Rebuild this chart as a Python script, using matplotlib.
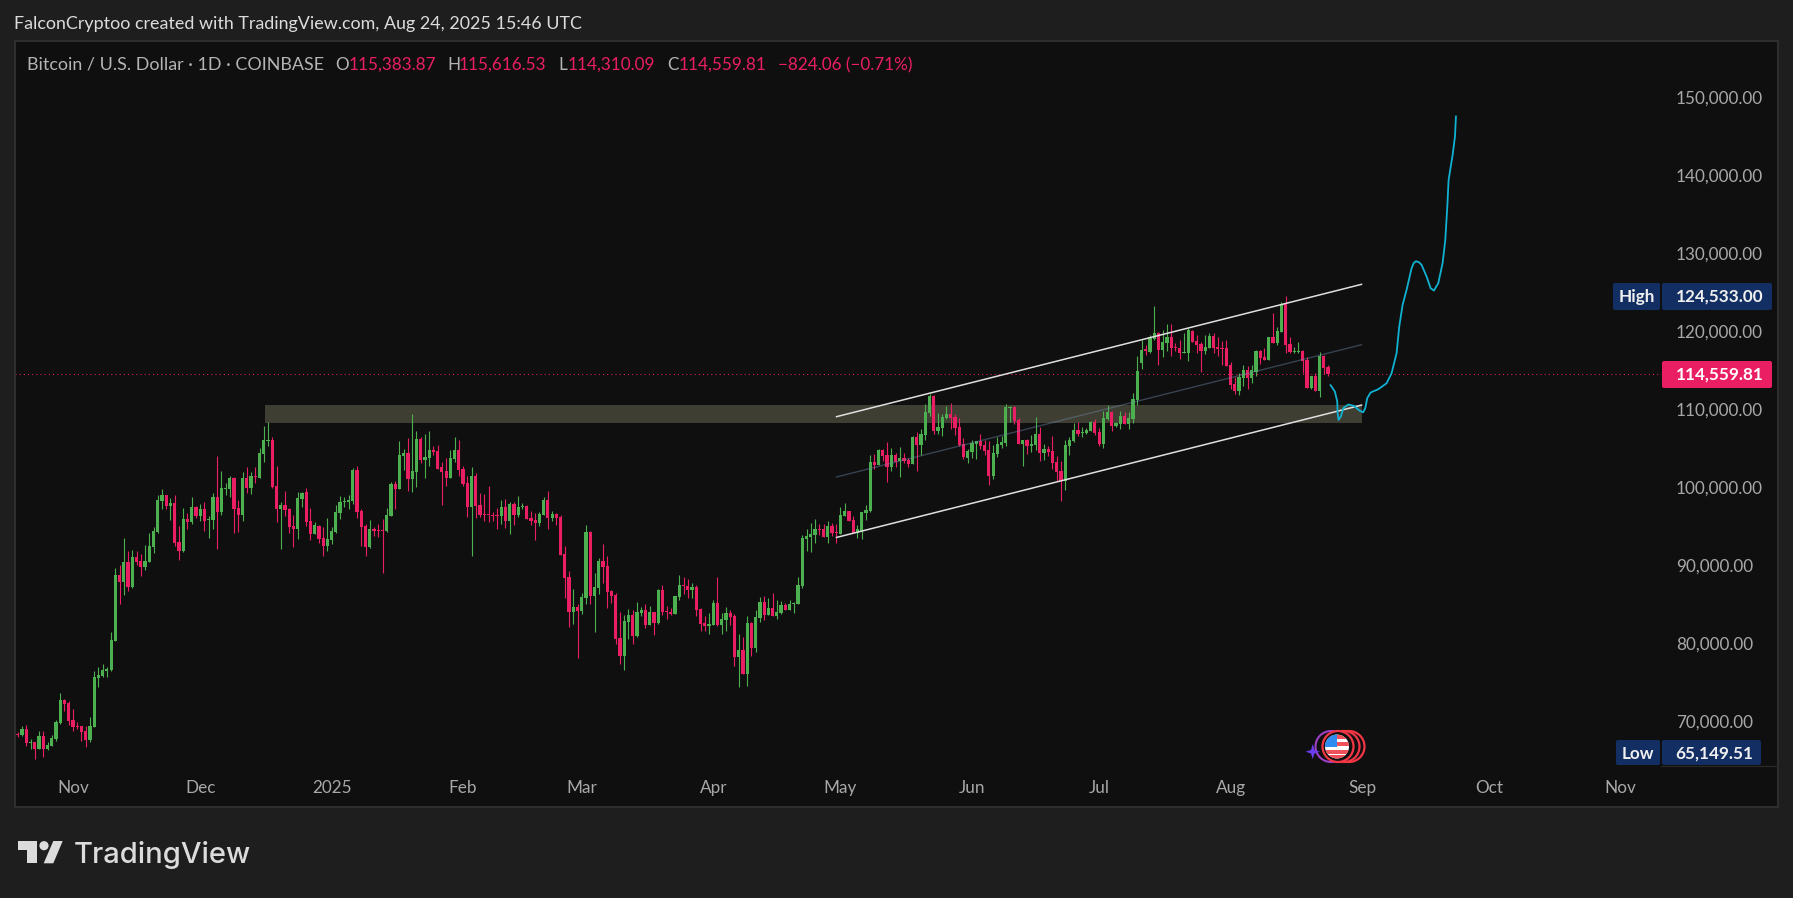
import pandas as pd
import matplotlib
matplotlib.use("Agg")
import matplotlib.pyplot as plt
from matplotlib.patches import Rectangle, Circle, Polygon, FancyBboxPatch

plt.rcParams['font.family'] = ['Lato', 'DejaVu Sans']

# daily BTCUSD candles in thousands of dollars, first bar is 2024-10-19
first_day = "2024-10-19"
opens = [68.41, 68.24, 69.01, 67.22, 67.35, 66.45, 68.11, 66.45, 66.83, 67.73,
         69.78, 72.73, 72.35, 70.17, 69.40, 69.40, 68.76, 67.60, 69.27, 75.55,
         75.81, 76.45, 76.58, 80.29, 88.75, 87.86, 90.42, 87.22, 91.06, 90.55,
         89.78, 90.42, 92.34, 94.27, 98.24, 99.01, 97.60, 97.99, 92.99, 91.83,
         95.93, 95.55, 97.47, 96.32, 97.22, 95.81, 95.81, 98.75, 96.83, 99.78,
         99.78, 101.19, 97.35, 96.45, 101.19, 99.91, 101.45, 101.19, 104.27, 105.93,
         106.06, 100.17, 97.22, 97.73, 97.22, 95.04, 94.65, 98.50, 99.40, 95.68,
         94.01, 95.04, 93.50, 92.47, 93.24, 94.27, 96.70, 98.11, 98.11, 98.24,
         102.22, 96.96, 95.04, 92.34, 94.65, 94.52, 94.52, 94.40, 96.32, 100.42,
         99.78, 104.01, 104.40, 101.06, 101.96, 106.19, 103.50, 103.75, 104.78, 104.65,
         102.60, 102.09, 101.19, 103.63, 104.78, 102.34, 100.55, 97.47, 101.45, 97.73,
         96.58, 96.58, 96.45, 96.45, 96.32, 97.47, 95.68, 97.86, 96.45, 97.47,
         97.60, 96.06, 95.81, 95.42, 96.45, 98.37, 96.06, 96.58, 96.19, 91.45,
         88.50, 84.01, 84.65, 84.14, 85.81, 94.27, 86.06, 87.09, 90.55, 89.91,
         86.70, 86.19, 80.68, 78.37, 82.73, 83.63, 80.93, 83.88, 84.27, 82.34,
         84.01, 82.60, 86.83, 84.14, 84.01, 83.76, 85.93, 87.47, 87.35, 86.83,
         87.22, 84.40, 82.60, 82.22, 82.34, 85.17, 82.34, 82.99, 83.88, 83.50,
         78.24, 79.14, 76.06, 82.60, 79.40, 83.24, 85.29, 83.63, 84.52, 83.50,
         83.88, 84.91, 84.27, 85.04, 85.04, 87.35, 93.37, 93.63, 93.88, 94.65,
         94.65, 93.63, 95.04, 94.27, 94.01, 96.32, 96.96, 95.81, 94.14, 94.40,
         96.70, 96.96, 103.24, 102.86, 104.78, 104.14, 102.60, 104.14, 103.37, 103.75,
         103.50, 102.99, 106.45, 105.42, 106.70, 109.52, 111.70, 107.22, 107.60, 108.88,
         109.40, 109.01, 107.73, 105.55, 103.75, 104.52, 105.55, 105.93, 105.42, 104.78,
         101.45, 104.27, 105.42, 105.68, 110.16, 110.29, 108.63, 105.55, 106.06, 105.29,
         105.42, 106.83, 104.40, 104.91, 104.65, 103.24, 102.09, 100.81, 105.29, 105.93,
         107.34, 106.96, 106.96, 107.22, 108.37, 107.09, 105.55, 108.75, 109.65, 107.86,
         108.11, 109.14, 108.11, 108.75, 111.19, 115.93, 117.73, 117.34, 119.01, 119.78,
         117.60, 118.50, 119.27, 117.99, 117.86, 117.22, 117.22, 120.04, 118.75, 118.37,
         117.47, 117.86, 119.40, 117.99, 117.86, 117.86, 115.68, 113.24, 112.34, 114.01,
         115.04, 114.01, 114.78, 117.47, 116.70, 116.32, 119.27, 118.50, 119.91, 123.50,
         118.37, 117.34, 117.34, 117.47, 116.32, 112.73, 114.27, 112.34, 116.83, 115.38]
closes = [68.20, 69.01, 67.22, 67.35, 66.45, 68.11, 66.45, 66.96, 67.86, 69.91,
          72.73, 72.22, 70.04, 69.27, 69.27, 68.63, 67.60, 69.40, 75.68, 75.94,
          76.58, 76.70, 80.42, 88.75, 87.86, 90.42, 87.22, 91.06, 90.42, 89.78,
          90.55, 92.47, 94.40, 98.37, 99.01, 97.60, 97.99, 92.86, 91.83, 95.93,
          95.55, 97.47, 96.32, 97.22, 95.68, 95.93, 98.75, 96.83, 99.91, 99.91,
          101.19, 97.22, 96.45, 101.19, 99.91, 101.45, 101.32, 104.40, 106.06, 106.06,
          100.04, 97.22, 97.73, 97.09, 94.91, 94.65, 98.63, 99.27, 95.55, 94.01,
          95.16, 93.37, 92.47, 93.37, 94.40, 96.83, 98.11, 98.24, 98.37, 102.22,
          96.83, 94.91, 92.34, 94.65, 94.40, 94.40, 94.40, 96.45, 100.42, 99.78,
          104.14, 104.40, 101.06, 102.09, 106.19, 103.50, 103.88, 104.78, 104.52, 102.38,
          101.96, 101.19, 103.75, 104.78, 102.22, 100.42, 97.47, 101.45, 97.60, 96.45,
          96.45, 96.45, 96.32, 96.32, 97.47, 95.68, 97.86, 96.45, 97.47, 97.60,
          95.93, 95.68, 95.42, 96.58, 98.37, 96.06, 96.58, 96.06, 91.32, 88.37,
          84.01, 84.65, 84.14, 85.93, 94.27, 86.06, 87.22, 90.55, 89.78, 86.58,
          86.06, 80.55, 78.37, 82.86, 83.63, 80.93, 84.01, 84.27, 82.34, 84.01,
          82.60, 86.83, 84.01, 84.01, 83.76, 86.06, 87.47, 87.35, 86.83, 87.22,
          84.27, 82.47, 82.22, 82.47, 85.17, 82.34, 83.11, 83.88, 83.37, 78.24,
          79.14, 76.06, 82.60, 79.40, 83.37, 85.29, 83.63, 84.52, 83.50, 84.01,
          84.91, 84.27, 85.04, 85.17, 87.47, 93.50, 93.76, 94.01, 94.65, 94.52,
          93.63, 95.04, 94.14, 94.14, 96.45, 96.96, 95.68, 94.14, 94.65, 96.83,
          97.09, 103.24, 102.86, 104.78, 104.01, 102.60, 104.14, 103.24, 103.75, 103.37,
          102.99, 106.45, 105.42, 106.83, 109.65, 111.70, 107.22, 107.73, 109.01, 109.40,
          108.88, 107.60, 105.42, 103.88, 104.65, 105.68, 105.93, 105.29, 104.65, 101.45,
          104.40, 105.55, 105.80, 110.29, 110.29, 108.50, 105.55, 106.06, 105.29, 105.55,
          106.83, 104.40, 104.91, 104.52, 103.11, 101.96, 100.81, 105.42, 106.06, 107.34,
          106.83, 107.09, 107.34, 108.37, 106.96, 105.55, 108.88, 109.65, 107.86, 108.24,
          109.14, 108.11, 108.88, 111.32, 114.91, 117.60, 117.47, 119.27, 119.78, 117.60,
          118.63, 119.27, 117.86, 117.86, 117.22, 117.34, 120.16, 118.63, 118.24, 117.47,
          117.99, 119.40, 117.86, 117.73, 117.73, 115.55, 113.11, 112.34, 114.14, 115.04,
          114.01, 115.04, 117.47, 116.57, 116.32, 119.27, 118.50, 120.04, 123.50, 118.24,
          117.34, 117.47, 117.47, 116.19, 112.73, 114.27, 112.34, 116.83, 115.29, 114.56]
highs = [68.63, 69.40, 69.53, 67.73, 67.40, 68.76, 68.76, 67.35, 68.24, 70.17,
         73.63, 72.86, 72.60, 71.58, 69.91, 69.45, 69.40, 70.55, 76.45, 76.96,
         77.35, 76.96, 81.45, 89.65, 90.04, 93.50, 91.83, 91.96, 91.83, 91.45,
         92.60, 94.14, 94.91, 99.01, 99.78, 99.05, 98.63, 99.01, 95.04, 97.35,
         96.70, 98.75, 97.55, 97.86, 98.11, 96.32, 99.27, 104.01, 102.09, 100.55,
         101.45, 101.32, 98.37, 101.96, 102.60, 101.96, 102.60, 105.04, 107.86, 108.37,
         106.45, 102.73, 98.11, 99.52, 97.35, 96.45, 99.40, 99.40, 99.91, 97.35,
         95.55, 95.16, 94.91, 96.06, 94.91, 97.73, 98.88, 98.75, 99.01, 102.47,
         102.73, 97.22, 95.29, 95.81, 94.91, 95.29, 95.93, 97.35, 100.68, 100.81,
         105.93, 104.91, 106.32, 109.40, 107.22, 106.45, 106.83, 107.22, 105.29, 105.42,
         103.24, 103.75, 104.78, 106.45, 106.06, 102.73, 101.45, 102.60, 101.83, 99.27,
         99.14, 100.17, 96.83, 97.35, 98.37, 98.50, 98.11, 98.11, 98.88, 97.99,
         97.73, 96.96, 96.70, 96.83, 98.75, 99.52, 96.96, 96.70, 96.45, 92.47,
         89.27, 86.96, 85.04, 86.45, 95.16, 94.40, 89.01, 90.93, 92.73, 91.19,
         86.83, 86.45, 84.01, 83.63, 84.40, 84.27, 85.29, 84.65, 85.04, 84.78,
         84.06, 86.96, 87.47, 84.78, 84.52, 86.10, 88.75, 88.50, 88.24, 87.73,
         87.47, 84.52, 83.50, 83.88, 85.55, 88.50, 83.88, 84.65, 84.27, 83.76,
         81.19, 80.81, 83.50, 82.73, 84.27, 85.93, 86.06, 85.81, 86.45, 85.55,
         85.42, 85.17, 85.55, 85.29, 88.50, 93.88, 94.65, 95.42, 95.93, 95.29,
         95.29, 95.68, 95.42, 95.29, 97.47, 97.99, 97.00, 96.32, 95.16, 96.87,
         97.73, 104.14, 104.27, 104.91, 104.91, 105.80, 105.04, 104.40, 105.16, 104.40,
         103.75, 106.57, 107.09, 107.47, 110.70, 111.96, 111.83, 109.52, 109.40, 110.42,
         110.81, 109.40, 108.88, 106.32, 104.91, 106.06, 105.97, 106.83, 106.06, 105.93,
         105.42, 106.45, 106.57, 110.68, 110.42, 110.42, 108.88, 106.10, 106.19, 106.70,
         109.01, 107.73, 105.55, 105.29, 106.57, 104.01, 103.37, 106.06, 106.45, 108.24,
         108.37, 107.73, 107.60, 108.50, 108.75, 107.60, 109.78, 110.55, 109.78, 108.37,
         109.78, 109.65, 109.65, 112.09, 116.83, 118.88, 118.24, 119.52, 123.24, 119.91,
         120.16, 120.93, 120.93, 118.50, 118.88, 119.78, 120.42, 120.20, 119.52, 118.63,
         119.52, 119.78, 119.78, 119.27, 118.75, 118.88, 116.06, 114.14, 114.65, 115.68,
         115.55, 115.68, 117.60, 117.60, 117.86, 119.31, 122.34, 120.55, 123.75, 124.53,
         119.27, 117.99, 118.63, 117.60, 116.70, 114.31, 114.65, 117.34, 116.96, 115.62]
lows = [67.99, 68.11, 66.83, 66.45, 65.17, 66.40, 65.42, 66.32, 66.78, 67.47,
        69.65, 71.32, 69.53, 68.76, 69.01, 67.47, 66.70, 67.35, 69.22, 74.40,
        75.68, 75.68, 76.45, 80.25, 85.04, 86.19, 86.70, 87.09, 90.04, 88.63,
        89.40, 90.38, 91.58, 94.14, 97.22, 97.22, 95.81, 92.47, 90.68, 91.70,
        94.65, 95.29, 96.06, 95.68, 94.40, 93.50, 94.65, 92.09, 96.45, 99.01,
        98.75, 94.14, 94.27, 95.68, 99.27, 99.14, 100.55, 101.15, 103.24, 105.29,
        99.91, 95.55, 92.09, 96.32, 94.14, 92.34, 93.37, 97.47, 95.04, 93.24,
        93.96, 92.86, 91.19, 91.83, 92.73, 94.14, 95.93, 97.47, 97.22, 97.86,
        96.06, 92.47, 91.19, 92.22, 93.76, 93.63, 89.01, 94.27, 96.28, 97.22,
        99.74, 102.22, 99.52, 99.40, 100.04, 103.11, 101.19, 102.73, 104.14, 102.34,
        97.73, 100.17, 101.15, 103.24, 101.45, 100.17, 96.19, 91.19, 96.06, 96.19,
        95.68, 95.55, 95.68, 94.65, 95.29, 94.78, 94.01, 95.16, 96.19, 97.22,
        95.89, 95.16, 93.24, 95.04, 96.41, 94.65, 95.68, 95.16, 91.28, 85.81,
        82.09, 82.47, 78.11, 83.75, 85.04, 85.04, 81.45, 86.32, 87.73, 84.52,
        85.17, 79.91, 77.35, 76.58, 80.55, 79.91, 80.81, 83.50, 81.96, 82.30,
        81.06, 82.47, 83.63, 83.11, 83.63, 83.72, 85.55, 86.32, 85.81, 85.81,
        83.50, 81.58, 81.58, 81.19, 82.30, 82.22, 81.19, 81.58, 82.34, 77.09,
        74.40, 76.02, 74.52, 78.37, 78.88, 82.73, 82.99, 83.59, 83.50, 83.11,
        83.76, 84.23, 84.23, 83.88, 85.00, 87.09, 91.83, 91.70, 92.86, 93.88,
        93.59, 92.86, 93.76, 92.86, 93.97, 96.28, 95.64, 94.10, 93.50, 93.37,
        95.81, 96.83, 102.34, 102.82, 103.37, 100.68, 102.09, 102.60, 101.32, 103.11,
        102.60, 102.95, 102.09, 104.14, 106.06, 109.14, 106.83, 106.83, 106.57, 108.75,
        107.47, 106.70, 105.29, 103.63, 103.11, 103.75, 103.63, 104.91, 104.14, 100.29,
        101.06, 103.88, 105.04, 105.29, 108.37, 108.11, 105.51, 102.73, 104.27, 104.52,
        104.78, 103.37, 103.50, 104.01, 102.34, 100.81, 98.24, 99.65, 104.14, 105.80,
        106.57, 106.45, 106.83, 107.18, 106.70, 105.29, 105.04, 108.63, 107.22, 107.73,
        107.47, 108.07, 107.47, 108.24, 110.55, 115.16, 116.96, 117.22, 118.88, 115.68,
        116.70, 117.47, 116.83, 117.47, 116.45, 117.18, 116.19, 118.59, 117.22, 114.78,
        117.09, 117.82, 117.22, 116.83, 115.68, 115.51, 112.60, 111.96, 111.83, 112.98,
        112.60, 113.37, 114.27, 115.81, 116.28, 116.28, 118.46, 118.24, 119.87, 117.22,
        117.22, 117.22, 117.22, 114.65, 112.69, 112.60, 112.30, 111.57, 114.52, 114.31]

# the hand drawn forecast path (days since first bar, price)
path_days = [309.58, 310.6, 311.16, 311.24, 311.47, 312.02, 312.57, 313.75, 315.09, 316.5,
             317.29, 317.76, 318.23, 319.02, 320.83, 322.8, 323.97, 325.15, 325.78, 326.57,
             327.51, 328.69, 329.2, 329.72, 330.4, 331.05, 332.23, 333.18, 333.96, 334.98, 336.0, 336.64,
             337.11, 337.42, 338.37, 338.92, 339.15]
path_prices = [113.08, 112.26, 110.98, 109.49, 108.63, 109.06, 110.13, 110.6, 110.43, 109.78,
               109.61, 110.13, 111.41, 112.14, 112.56, 113.33, 114.61, 117.18, 120.6, 123.38,
               125.3, 128.08, 128.75, 128.97, 128.85, 128.5, 127.01, 125.51, 125.21, 126.15, 128.72, 131.71,
               135.98, 139.4, 142.61, 144.96, 147.52]

# channel: start day, end day, start price, end price
channel_days = [192.9, 317.05]
channel_upper = [109.02, 126.03]
channel_middle = [101.29, 118.29]
channel_lower = [93.54, 110.55]
zone_days = [58.2, 317.0]
zone_prices = [108.28, 110.55]

price_ticks = [70, 80, 90, 100, 110, 120, 130, 140, 150]
price_tick_labels = ["70,000.00", "80,000.00", "90,000.00", "100,000.00", "110,000.00",
                     "120,000.00", "130,000.00", "140,000.00", "150,000.00"]
month_dates = ["2024-11-01", "2024-12-01", "2025-01-01", "2025-02-01", "2025-03-01", "2025-04-01",
               "2025-05-01", "2025-06-01", "2025-07-01", "2025-08-01", "2025-09-01", "2025-10-01", "2025-11-01"]
month_labels = ["Nov", "Dec", "2025", "Feb", "Mar", "Apr", "May", "Jun", "Jul", "Aug", "Sep", "Oct", "Nov"]

GREEN = "#4caf50"
RED = "#e91e63"
W, H = 1793, 898
FS = 12.3

fig = plt.figure(figsize=(W / 100, H / 100), dpi=100, facecolor="#1e1e1e")

# main panel
ax = fig.add_axes([15 / W, 1 - 807 / H, (1778 - 15) / W, (807 - 41) / H], facecolor="#0f0f0f")
ax.set_xlim(-0.67, 415.1)
ax.set_ylim(59.01, 157.2)
for s in ax.spines.values():
    s.set_color("#2e2e2e")
    s.set_linewidth(1.5)

days = list(range(len(closes)))
colors = [GREEN if c >= o else RED for o, c in zip(opens, closes)]
bottoms = [min(o, c) for o, c in zip(opens, closes)]
heights = [abs(c - o) for o, c in zip(opens, closes)]

ax.add_patch(Rectangle((zone_days[0], zone_prices[0]), zone_days[1] - zone_days[0], zone_prices[1] - zone_prices[0],
                       facecolor="#3f3e33", edgecolor="none", zorder=1))
ax.axhline(closes[-1], xmin=0, xmax=(1661 - 15) / (1778 - 15), color=RED, lw=0.75, ls=(0, (1, 3)), zorder=1.5)
wicks = ax.vlines(days, lows, highs, colors=colors, linewidth=0.8, zorder=2)
wicks.set_snap(True)
ax.bar(days, heights, bottom=bottoms, width=0.76, color=colors, linewidth=0, zorder=2.1)

ax.plot(channel_days, channel_upper, color="#e0e0e0", lw=1.1, zorder=3, solid_capstyle="butt")
ax.plot(channel_days, channel_lower, color="#e0e0e0", lw=1.1, zorder=3, solid_capstyle="butt")
ax.plot(channel_days, channel_middle, color="#6f90b0", lw=1.0, alpha=0.4, zorder=3, solid_capstyle="butt")
ax.plot(path_days, path_prices, color="#0fb2d2", lw=1.3, zorder=3.5)

start = pd.Timestamp(first_day)
ax.set_xticks([(pd.Timestamp(d) - start).days for d in month_dates], month_labels)
ax.tick_params(axis="x", length=0, pad=-19.5, labelsize=FS, labelcolor="#a8a8a8")
ax.yaxis.tick_right()
ax.set_yticks(price_ticks, price_tick_labels)
ax.tick_params(axis="y", length=0, pad=-73.4, labelsize=FS, labelcolor="#a8a8a8")
for t in ax.get_yticklabels():
    t.set_ha("left")

# everything else sits on an overlay in pixel coordinates
deco = fig.add_axes([0, 0, 1, 1], facecolor="none")
deco.set_xlim(0, W)
deco.set_ylim(H, 0)
deco.axis("off")


def label(x, y, s, color, **kw):
    deco.text(x, y, s, color=color, fontsize=kw.pop("fontsize", FS), va="center", ha=kw.pop("ha", "left"), **kw)


def box(x0, y0, x1, y1, color):
    deco.add_patch(FancyBboxPatch((x0 + 2, y0 + 2), x1 - x0 - 4, y1 - y0 - 4, boxstyle="round,pad=2,rounding_size=2",
                                  facecolor=color, edgecolor="none"))


label(14.5, 24.5, "FalconCryptoo created with TradingView.com, Aug 24, 2025 15:46 UTC", "#dcdcdc", fontsize=12.85)
GREY = "#b4b4b4"
label(27, 65, "Bitcoin / U.S. Dollar · 1D · COINBASE", GREY, fontsize=12.9)
label(335.5, 65, "O", GREY)
label(349, 65, "115,383.87", RED)
label(447, 65, "H", GREY)
label(459, 65, "115,616.53", RED)
label(558, 65, "L", GREY)
label(568, 65, "114,310.09", RED)
label(667, 65, "C", GREY)
label(678.5, 65, "114,559.81", RED)
label(777.5, 65, "−824.06 (−0.71%)", RED)

# price labels on the right
NAVY = "#132e62"
box(1613, 283, 1660, 310, NAVY)
box(1662, 283, 1772, 310, NAVY)
label(1618.5, 297, "High", "#f0f0f0", fontweight="bold")
label(1676, 297, "124,533.00", "#f0f0f0", fontweight="bold")
box(1662, 361, 1772, 388, RED)
label(1676, 375, "114,559.81", "#ffffff", fontweight="bold")
box(1616, 740, 1660, 765, NAVY)
box(1662, 740, 1761, 765, NAVY)
deco.plot([1661, 1778], [765.5, 765.5], color="#2a2a2a", lw=0.8)
label(1622, 754, "Low", "#f0f0f0", fontweight="bold")
label(1675, 754, "65,149.51", "#f0f0f0", fontweight="bold")

# economic event icons
deco.add_patch(Circle((1331, 746.5), 15.5, facecolor="none", edgecolor="#9c3fc4", lw=1.5))
deco.add_patch(Polygon([(1312.7, 744), (1314.5, 750), (1320, 751.7), (1314.5, 753.5), (1312.7, 759),
                        (1311, 753.5), (1305.5, 751.7), (1311, 750)], facecolor="#6c3df0", edgecolor="none"))
for cx in [1349, 1344, 1338]:
    deco.add_patch(Circle((cx, 746.5), 15.5, facecolor="#0f0f0f", edgecolor="#f23645", lw=1.6))
flag = Circle((1337, 746.5), 12, facecolor="#ffffff", edgecolor="none")
deco.add_patch(flag)
for sy in [734.5, 742, 749.5, 755]:
    stripe = Rectangle((1324, sy), 26, 4, facecolor="#f0505a", edgecolor="none")
    deco.add_patch(stripe)
    stripe.set_clip_path(flag)
canton = Rectangle((1324, 734), 13, 13, facecolor="#2f8bf0", edgecolor="none")
deco.add_patch(canton)
canton.set_clip_path(flag)

# logo
LOGO = "#dcdcdc"
deco.add_patch(Polygon([(18.3, 841), (36.7, 841), (36.7, 863.3), (26.7, 863.3), (26.7, 850), (18.3, 850)],
                       facecolor=LOGO, edgecolor="none"))
deco.add_patch(Circle((44, 845.7), 4.6, facecolor=LOGO, edgecolor="none"))
deco.add_patch(Polygon([(53.3, 841), (62.7, 841), (53.3, 863.3), (43.7, 863.3)], facecolor=LOGO, edgecolor="none"))
deco.text(73.5, 863.3, "TradingView", color=LOGO, fontsize=21, fontweight="medium", family="Inter",
          va="baseline", ha="left")

fig.savefig("out.png", dpi=100, facecolor=fig.get_facecolor())
